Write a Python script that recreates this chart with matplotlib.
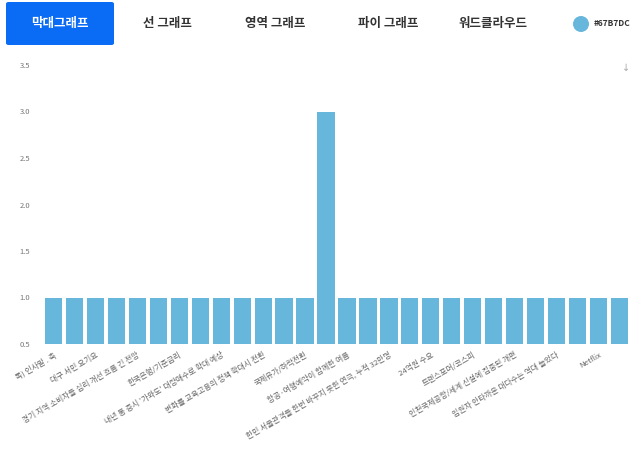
import matplotlib
matplotlib.use("Agg")
import matplotlib.pyplot as plt
from matplotlib.patches import FancyBboxPatch, Ellipse

plt.rcParams['font.family'] = ['Noto Sans CJK KR', 'DejaVu Sans']

# Category names (headline keywords) and their counts
categories = [
    "독) 인사말 . 축", "주간 이슈 정리", "대구 서민 요기요", "시장 동향",
    "경기 지역 소비자들 심리 개선 흐름 긴 전망", "물가 지표", "한국은행/기준금리", "부동산 시장",
    "내년 통 증시 '가와도' 대량매수로 확대 예상", "수출 실적", "변화를 교육고용의 정책 확대시 전환", "고용 동향",
    "국제유가/하락전환", "금융위원회", "항공·여행예약이 함께한 여름", "반도체 업황",
    "한민 서울관객들 한번 바꾸지 못한 연극, 누적 32만명", "환율 전망", "24억원 수요", "에너지 정책",
    "트랜스포머/코스피", "가계 부채", "인천국제공항/세계 신설에 집중된 개편", "신규 상장",
    "입원자 안타까운 대다수는 역대 늘었다", "지역 축제", "Netflix", "기타",
]
counts = [1, 1, 1, 1, 1, 1, 1, 1, 1, 1, 1, 1, 1, 3,
          1, 1, 1, 1, 1, 1, 1, 1, 1, 1, 1, 1, 1, 1]
y_ticks = [0.5, 1.0, 1.5, 2.0, 2.5, 3.0, 3.5]
tabs = ["막대그래프", "선 그래프", "영역 그래프", "파이 그래프", "워드클라우드"]
bar_color = "#67B7DC"

fig = plt.figure(figsize=(6.42, 4.59), dpi=100)
ax = fig.add_axes([43 / 642, 115 / 459, 587 / 642, 279 / 459])

x = list(range(len(categories)))
ax.bar(x, counts, bottom=0, width=0.82, color=bar_color, zorder=2)
ax.set_ylim(0.5, 3.5)
ax.set_xlim(-0.5, len(categories) - 0.5)
ax.set_yticks(y_ticks)
ax.set_yticklabels([f"{v:.1f}" for v in y_ticks], fontsize=5.5, color="#777777")

# every other category label is shown
ax.set_xticks(x[::2])
ax.set_xticklabels(categories[::2], rotation=30, ha="right", va="top",
                   rotation_mode="anchor", fontsize=5.6, color="#666666")
ax.tick_params(axis="both", length=0)
ax.tick_params(axis="y", pad=9)
ax.tick_params(axis="x", pad=5)
for s in ax.spines.values():
    s.set_visible(False)

# tab bar
box = FancyBboxPatch((6 / 642, 1 - 45 / 459), 108 / 642, 43 / 459,
                     boxstyle="round,pad=0,rounding_size=0.004",
                     transform=fig.transFigure, facecolor="#0A6CF5",
                     edgecolor="none")
fig.patches.append(box)
tab_x = [60, 167, 275, 388, 493]
for i, (t, tx) in enumerate(zip(tabs, tab_x)):
    fig.text(tx / 642, 1 - 23 / 459, t, ha="center", va="center",
             fontsize=9, fontweight="bold",
             color="white" if i == 0 else "#333333")

swatch = Ellipse((581 / 642, 1 - 24 / 459), 16 / 642, 16 / 459,
                 transform=fig.transFigure, facecolor=bar_color,
                 edgecolor="none")
fig.patches.append(swatch)
fig.text(594 / 642, 1 - 24 / 459, "#67B7DC", ha="left", va="center",
         fontsize=6, fontweight="bold", color="#333333")

# download icon
fig.text(626 / 642, 1 - 68 / 459, "↓", ha="center", va="center",
         fontsize=7, color="#aaaaaa", family=["DejaVu Sans"])

fig.savefig("out.png", dpi=100)
